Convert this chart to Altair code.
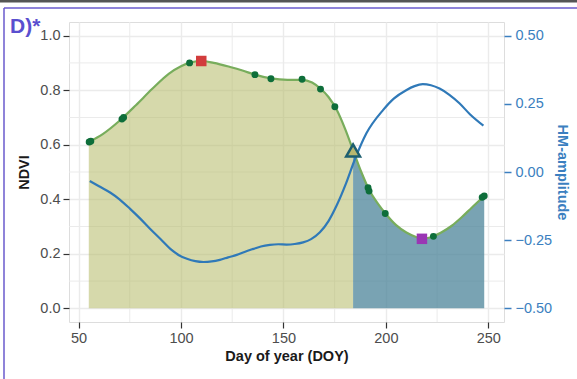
import altair as alt
import pandas as pd

# Smoothed NDVI trajectory (day of year, NDVI)
curve_doy = [55, 62, 70, 78, 86, 94, 100, 105, 110, 116, 124, 130, 136, 144, 152,
             159, 164, 168, 172, 176, 180, 184, 188, 192, 196, 200, 205, 210, 215,
             218, 222, 227, 232, 237, 242, 248]
curve_ndvi = [0.610, 0.640, 0.688, 0.745, 0.805, 0.860, 0.888, 0.902, 0.907, 0.900,
              0.885, 0.872, 0.857, 0.843, 0.838, 0.838, 0.828, 0.806, 0.775, 0.728,
              0.660, 0.580, 0.500, 0.432, 0.385, 0.346, 0.305, 0.278, 0.261, 0.256,
              0.261, 0.278, 0.302, 0.334, 0.370, 0.412]

# Observed NDVI values
obs_doy = [55.2, 56.0, 71.2, 72.0, 104.2, 136.1, 143.9, 159.1, 168.1, 175.1,
           191.3, 191.8, 199.7, 223.2, 247.0, 248.0]
obs_ndvi = [0.610, 0.613, 0.694, 0.700, 0.900, 0.857, 0.842, 0.840, 0.804, 0.739,
            0.442, 0.430, 0.348, 0.264, 0.407, 0.412]

# Harmonic-model amplitude (right axis)
hm_doy = [55.5, 60, 65.6, 70, 75.3, 80, 85, 90, 94.8, 99, 102.9, 107, 111, 115, 119,
          123, 127.2, 131, 135.3, 139, 143.4, 147.5, 151.5, 155.5, 159.6, 163.5,
          167.8, 172, 175.9, 180.7, 184.8, 190.5, 198.6, 204, 209.9, 214, 218, 222,
          226.2, 231, 235.9, 241, 247.6]
hm_amp = [-0.033, -0.052, -0.076, -0.100, -0.136, -0.170, -0.209, -0.246, -0.282,
          -0.305, -0.318, -0.327, -0.330, -0.328, -0.322, -0.313, -0.304, -0.293,
          -0.282, -0.273, -0.267, -0.265, -0.266, -0.264, -0.258, -0.246, -0.221,
          -0.180, -0.124, -0.039, 0.045, 0.142, 0.227, 0.270, 0.300, 0.315, 0.322,
          0.318, 0.306, 0.283, 0.252, 0.212, 0.170]

# Key phenology markers
peak_doy, peak_ndvi = 109.9, 0.907
trough_doy, trough_ndvi = 217.6, 0.255
switch_doy, switch_ndvi = 184.0, 0.579

x_major = [50, 100, 150, 200, 250]
x_minor = [75, 125, 175, 225]
y_major = [0.0, 0.2, 0.4, 0.6, 0.8, 1.0]
y_minor = [0.1, 0.3, 0.5, 0.7, 0.9]
amp_ticks = [-0.50, -0.25, 0.00, 0.25, 0.50]

X_DOMAIN = [45.35, 257.65]
Y_DOMAIN = [-0.05, 1.05]
AMP_DOMAIN = [-0.55, 0.55]

FONT = "Liberation Sans"
BLUE = "#2f79b8"
AXIS_BLUE = "#3b7fc0"

curve = pd.DataFrame({"doy": curve_doy, "ndvi": curve_ndvi})
obs = pd.DataFrame({"doy": obs_doy, "ndvi": obs_ndvi})
hm = pd.DataFrame({"doy": hm_doy, "amp": hm_amp})
peak = pd.DataFrame({"doy": [peak_doy], "ndvi": [peak_ndvi]})
trough = pd.DataFrame({"doy": [trough_doy], "ndvi": [trough_ndvi]})
switch = pd.DataFrame({"doy": [switch_doy], "ndvi": [switch_ndvi]})
vgrid = pd.DataFrame({"v": x_minor})
hgrid = pd.DataFrame({"v": y_minor})

xs = alt.Scale(domain=X_DOMAIN, nice=False, zero=False)
ys = alt.Scale(domain=Y_DOMAIN, nice=False, zero=False)
amps = alt.Scale(domain=AMP_DOMAIN, nice=False, zero=False)

x_axis = alt.Axis(values=x_major, format="d", grid=True, gridColor="#ebebeb",
                  gridWidth=1.4, domain=False, tickColor="#333333", tickSize=6,
                  tickWidth=1.2, labelColor="#4d4d4d", labelFontSize=14.5,
                  labelFont=FONT, labelPadding=3, titleFont=FONT, titleFontSize=14.5,
                  titleFontWeight="bold", titleColor="#1a1a1a", titlePadding=5)
y_axis = alt.Axis(values=y_major, format=".1f", grid=True, gridColor="#ebebeb",
                  gridWidth=1.4, domain=False, tickColor="#333333", tickSize=6,
                  tickWidth=1.2, labelColor="#4d4d4d", labelFontSize=14.5,
                  labelFont=FONT, labelPadding=3, titleFont=FONT, titleFontSize=14.5,
                  titleFontWeight="bold", titleColor="#1a1a1a", titlePadding=8)
amp_axis = alt.Axis(orient="right", values=amp_ticks, format=".2f", grid=False,
                    domain=False, tickColor=AXIS_BLUE, tickSize=7, tickWidth=1.5,
                    labelColor=AXIS_BLUE, labelFontSize=14.5, labelFont=FONT,
                    labelPadding=4, titleFont=FONT, titleFontSize=14.5,
                    titleFontWeight="bold", titleColor=AXIS_BLUE, titleAngle=90,
                    titlePadding=3)

XT = "Day of year (DOY)"


def xenc(field):
    return alt.X(f"{field}:Q", scale=xs, axis=x_axis, title=XT)


def yenc(field, axis=True):
    return alt.Y(f"{field}:Q", scale=ys, axis=y_axis if axis else None, title="NDVI")


# background layers: minor grid, shaded seasons, fitted NDVI line
minor_v = alt.Chart(vgrid).mark_rule(color="#ebebeb", strokeWidth=1).encode(x=xenc("v"))
minor_h = alt.Chart(hgrid).mark_rule(color="#ebebeb", strokeWidth=1).encode(y=yenc("v"))

green_area = alt.Chart(curve).transform_filter(alt.datum.doy <= switch_doy).mark_area(
    interpolate="monotone", color="#b5ba66", opacity=0.55
).encode(x=xenc("doy"), y=yenc("ndvi"), y2=alt.datum(0))

blue_area = alt.Chart(curve).transform_filter(alt.datum.doy >= switch_doy).mark_area(
    interpolate="monotone", color="#457f96", opacity=0.72
).encode(x=xenc("doy"), y=yenc("ndvi"), y2=alt.datum(0))

ndvi_line = alt.Chart(curve).mark_line(
    interpolate="monotone", color="#78ad5c", strokeWidth=2.2
).encode(x=xenc("doy"), y=yenc("ndvi"))

back = alt.layer(minor_v, minor_h, green_area, blue_area, ndvi_line)

# harmonic amplitude on the secondary axis
amp_line = alt.Chart(hm).mark_line(
    interpolate="monotone", color=BLUE, strokeWidth=2.2
).encode(
    x=xenc("doy"),
    y=alt.Y("amp:Q", scale=amps, axis=amp_axis, title="HM-amplitude"),
)

# observation points and phenology markers
pts = alt.Chart(obs).mark_point(filled=True, color="#0e6e3a", size=48, opacity=1).encode(
    x=xenc("doy"), y=yenc("ndvi", axis=False))
peak_mk = alt.Chart(peak).mark_point(shape="square", filled=True, color="#d23c3c",
                                      size=110, opacity=1).encode(
    x=xenc("doy"), y=yenc("ndvi", axis=False))
trough_mk = alt.Chart(trough).mark_point(shape="square", filled=True, color="#9a36b4",
                                          size=110, opacity=1).encode(
    x=xenc("doy"), y=yenc("ndvi", axis=False))
switch_mk = alt.Chart(switch).mark_point(shape="triangle-up", filled=True, fill="#b8b770",
                                          stroke="#1d5f70", strokeWidth=2.5, size=190,
                                          opacity=1).encode(
    x=xenc("doy"), y=yenc("ndvi", axis=False))
front = alt.layer(pts, peak_mk, trough_mk, switch_mk)

# panel frame lines around the figure
one = alt.Data(values=[{}])
top_band = alt.Chart(one).mark_rule(color="#555555", strokeWidth=3).encode(
    x=alt.value(-69), x2=alt.value(508), y=alt.value(-21))
top_line = alt.Chart(one).mark_rule(color="#6a5acd", strokeWidth=1.5).encode(
    x=alt.value(-65), x2=alt.value(508), y=alt.value(-14))
left_line = alt.Chart(one).mark_rule(color="#6a5acd", strokeWidth=1.5).encode(
    x=alt.value(-65), y=alt.value(-14), y2=alt.value(357))

chart = alt.layer(back, amp_line, front, top_band, top_line, left_line).resolve_scale(
    y="independent"
).properties(
    width=435,
    height=300,
    padding={"left": 69, "top": 22, "right": 73, "bottom": 57},
    autosize=alt.AutoSizeParams(type="none"),
    title=alt.TitleParams(text="D)*", anchor="start", frame="group", dx=-59, dy=54,
                          offset=0, baseline="alphabetic", fontSize=21,
                          font=FONT, fontWeight="bold", color="#5a4fcf"),
).configure_view(stroke="#333333", strokeWidth=1.3).configure(background="white")

chart.save("out.html", embed_options={"renderer": "svg", "actions": False})
